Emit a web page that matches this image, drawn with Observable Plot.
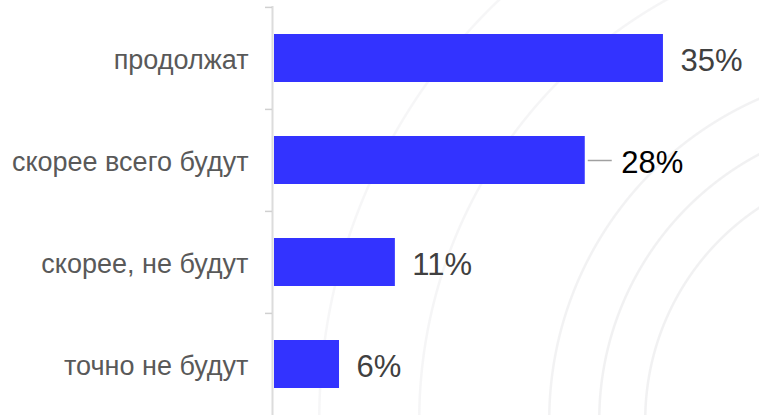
<!DOCTYPE html>
<html>
<head>
<meta charset="utf-8">
<script src="https://cdn.jsdelivr.net/npm/d3@7"></script>
<script src="https://cdn.jsdelivr.net/npm/@observablehq/plot@0.6"></script>
<style>
  html, body { margin: 0; padding: 0; background: #fff; }
  #chart {
    position: relative;
    width: 759px; height: 415px; overflow: hidden;
    background: radial-gradient(circle at 900px 420px,
      transparent 253px, #f1f1f2 254px, #f1f1f2 255.5px, transparent 256.5px,
      transparent 299px, #f1f1f2 300px, #f1f1f2 301.5px, transparent 302.5px,
      transparent 349px, #f2f2f3 350px, #f2f2f3 351.5px, transparent 352.5px,
      transparent 479px, #f5f5f6 480px, #f5f5f6 481.5px, transparent 482.5px,
      transparent 579px, #f6f6f7 580px, #f6f6f7 581.5px, transparent 582.5px);
  }
  #log { position: absolute; top: 0; left: 0; font-size: 10px; color: red; margin: 0; }
</style>
</head>
<body>
<div id="chart"><pre id="log"></pre></div>
<script>
const categories = ["продолжат", "скорее всего будут", "скорее, не будут", "точно не будут"];
const values = [35, 28, 11, 6];
const valueLabels = ["35%", "28%", "11%", "6%"];
const leaderCategory = "скорее всего будут";

const data = categories.map((c, i) => ({category: c, value: values[i], label: valueLabels[i]}));
const plain = data.filter(d => d.category !== leaderCategory);
const lead = data.filter(d => d.category === leaderCategory);
const xMax = 43.6;
const pxPerUnit = (759 - 272) / xMax;

try {
const chart = Plot.plot({
  width: 759,
  height: 415,
  marginLeft: 272,
  marginRight: 0,
  marginTop: 6,
  marginBottom: 0,
  style: {fontFamily: "'Liberation Sans', Arial, sans-serif", background: "transparent", overflow: "visible"},
  x: {domain: [0, xMax], axis: null},
  y: {domain: categories, padding: 0, axis: null},
  marks: [
    Plot.barX(data, {y: "category", x: "value", fill: "#3333ff", insetTop: 27, insetBottom: 27, insetLeft: 2}),
    Plot.ruleX([0], {stroke: "#dcdcdc", strokeWidth: 2}),
    Plot.axisY({anchor: "left", tickSize: 7, stroke: "#d0d0d0", strokeWidth: 1.5, text: null, label: null, dy: -51.1}),
    Plot.axisY({anchor: "left", tickSize: 0, tickPadding: 24, fontSize: 27, fill: "#595959", label: null, dy: 2}),
    Plot.text(plain, {y: "category", x: "value", text: "label", dx: 17, dy: 3, textAnchor: "start", fontSize: 31, fill: "#404040"}),
    Plot.text(lead, {y: "category", x: "value", text: "label", dx: 36, dy: 3, textAnchor: "start", fontSize: 31, fill: "#000"}),
    Plot.ruleY(lead, {y: "category", x1: "value", x2: d => d.value + 24 / pxPerUnit, dx: 3, stroke: "#a0a0a0", strokeWidth: 1.5})
  ]
});
document.getElementById("chart").append(chart);
} catch (e) { document.getElementById("log").textContent = e.stack; }
</script>
</body>
</html>
